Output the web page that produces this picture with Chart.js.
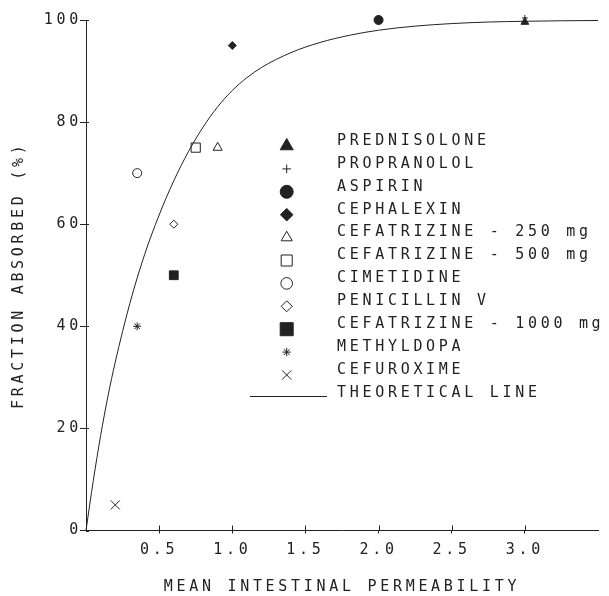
<!DOCTYPE html>
<html>
<head>
<meta charset="utf-8">
<script src="https://cdn.jsdelivr.net/npm/chart.js@4.4.1/dist/chart.umd.min.js"></script>
<style>
  html, body { margin: 0; padding: 0; background: #fff; }
  #wrap { width: 609px; height: 596px; }
</style>
</head>
<body>
<div id="wrap"><canvas id="chart" width="609" height="596"></canvas></div>
<script>
// one point per drug
const drugNames = ['PREDNISOLONE', 'PROPRANOLOL', 'ASPIRIN', 'CEPHALEXIN',
  'CEFATRIZINE - 250 mg', 'CEFATRIZINE - 500 mg', 'CIMETIDINE', 'PENICILLIN V',
  'CEFATRIZINE - 1000 mg', 'METHYLDOPA', 'CEFUROXIME'];
const permeability = [3.0, 3.0, 2.0, 1.0, 0.9, 0.75, 0.35, 0.6, 0.6, 0.35, 0.2];
const fractionAbsorbed = [99.6, 100.4, 100, 95, 75, 75, 70, 60, 50, 40, 5];

// theoretical line
const lineLabel = 'THEORETICAL LINE';
const lineX = [0, 0.025, 0.05, 0.1, 0.15, 0.2, 0.3, 0.4, 0.5, 0.6, 0.7, 0.8, 0.9,
  1.0, 1.1, 1.2, 1.4, 1.6, 1.8, 2.0, 2.25, 2.5, 2.75, 3.0, 3.25, 3.5];
const lineY = [0, 5, 9.8, 18.6, 26.3, 33, 44.5, 54, 61.8, 68.5, 74.2, 79, 83,
  86.2, 88.7, 90.7, 93.6, 95.6, 97, 98, 98.8, 99.3, 99.6, 99.75, 99.85, 99.9];

const xTicks = [0.5, 1.0, 1.5, 2.0, 2.5, 3.0];
const yTicks = [0, 20, 40, 60, 80, 100];

// marker looks
const markerStyle = ['triangle', 'cross', 'circle', 'rectRot', 'triangle', 'rect',
  'circle', 'rectRot', 'rect', 'star', 'crossRot'];
const markerFilled = [true, false, true, true, false, false, false, false, true, false, false];
const markerSize = [4.5, 3, 4.5, 4, 5.3, 6.5, 4.5, 4, 6.2, 4, 6.4];
const legendSize = [7.5, 4.3, 6.5, 6.3, 6.4, 7.8, 5.8, 5.5, 9.2, 4.2, 6.6];

const INK = '#222';
const FONT = '15px "DejaVu Sans Mono", monospace';

Chart.defaults.font.family = '"DejaVu Sans Mono", monospace';
Chart.defaults.font.size = 15;
Chart.defaults.color = INK;

const datasets = drugNames.map((name, i) => ({
  label: name,
  data: [{ x: permeability[i], y: fractionAbsorbed[i] }],
  pointStyle: markerStyle[i],
  pointRadius: markerSize[i],
  pointHoverRadius: markerSize[i],
  pointBorderWidth: 1,
  pointBorderColor: INK,
  pointBackgroundColor: markerFilled[i] ? INK : 'rgba(0,0,0,0)',
  clip: false
}));

datasets.push({
  label: lineLabel,
  data: lineX.map((x, i) => ({ x: x, y: lineY[i] })),
  showLine: true,
  borderColor: INK,
  borderWidth: 1,
  pointRadius: 0,
  cubicInterpolationMode: 'monotone',
  clip: false
});

// wide plotter-like lettering
const spacingPlugin = {
  id: 'spacing',
  beforeDraw(chart) {
    chart.ctx.letterSpacing = '3.7px';
  }
};

// tick stubs that poke into the plot
const innerTicks = {
  id: 'innerTicks',
  afterDraw(chart) {
    const ctx = chart.ctx;
    const a = chart.chartArea;
    const sx = chart.scales.x, sy = chart.scales.y;
    ctx.save();
    ctx.strokeStyle = INK;
    ctx.lineWidth = 1;
    ctx.beginPath();
    sx.ticks.forEach(t => {
      const px = Math.round(sx.getPixelForValue(t.value)) + 0.5;
      ctx.moveTo(px, a.bottom);
      ctx.lineTo(px, a.bottom - 5);
    });
    sy.ticks.forEach(t => {
      const py = Math.round(sy.getPixelForValue(t.value)) + 0.5;
      ctx.moveTo(a.left, py);
      ctx.lineTo(a.left + 3, py);
    });
    ctx.stroke();
    ctx.restore();
  }
};

// legend block inside the plot
const insideLegend = {
  id: 'insideLegend',
  afterDraw(chart) {
    const ctx = chart.ctx;
    const drawPoint = Chart.helpers.drawPoint;
    ctx.save();
    ctx.font = FONT;
    ctx.textAlign = 'left';
    ctx.textBaseline = 'middle';
    ctx.strokeStyle = INK;
    ctx.lineWidth = 1;
    chart.data.datasets.forEach((ds, i) => {
      const ty = 141 + i * 22.9;
      if (ds.showLine) {
        ctx.beginPath();
        ctx.moveTo(250, Math.round(ty + 3) + 0.5);
        ctx.lineTo(327, Math.round(ty + 3) + 0.5);
        ctx.stroke();
      } else {
        ctx.fillStyle = markerFilled[i] ? INK : 'rgba(0,0,0,0)';
        drawPoint(ctx, { pointStyle: ds.pointStyle, radius: legendSize[i], borderWidth: 1, rotation: 0 }, 286.7, ty + 5);
      }
      ctx.fillStyle = INK;
      ctx.fillText(ds.label, 337, ty);
    });
    ctx.restore();
  }
};

new Chart(document.getElementById('chart'), {
  type: 'scatter',
  data: { datasets: datasets },
  plugins: [spacingPlugin, innerTicks, insideLegend],
  options: {
    responsive: false,
    animation: false,
    layout: { padding: { top: 20, right: 11, left: 0, bottom: 0 } },
    plugins: {
      legend: { display: false },
      tooltip: { enabled: false }
    },
    scales: {
      x: {
        type: 'linear',
        min: 0,
        max: 3.5,
        afterBuildTicks: s => { s.ticks = xTicks.map(v => ({ value: v })); },
        afterFit: s => { s.height = 65.5; },
        grid: { drawOnChartArea: false, tickLength: 3, color: INK },
        border: { color: INK, width: 1 },
        ticks: { padding: 8, maxRotation: 0, autoSkip: false, callback: v => v.toFixed(1) },
        title: { display: true, text: 'MEAN INTESTINAL PERMEABILITY', padding: { top: 0, bottom: 0 } }
      },
      y: {
        min: 0,
        max: 100,
        afterBuildTicks: s => { s.ticks = yTicks.map(v => ({ value: v })); },
        afterFit: s => { s.width = 86; },
        grid: { drawOnChartArea: false, tickLength: 6, color: INK },
        border: { color: INK, width: 1 },
        ticks: { padding: -2, callback: v => String(v) },
        title: { display: true, text: 'FRACTION ABSORBED (%)', padding: { top: 10, bottom: 0 } }
      }
    }
  }
});
</script>
</body>
</html>
